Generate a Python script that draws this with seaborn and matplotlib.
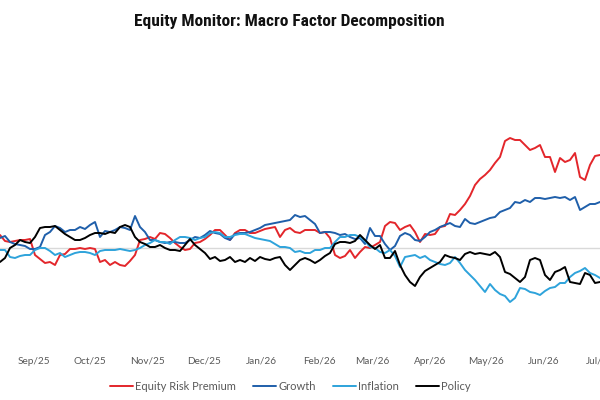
import numpy as np
import pandas as pd
import seaborn as sns
import matplotlib.pyplot as plt
import matplotlib.dates as mdates
from matplotlib import font_manager

# factor contributions (one value per ~2.7 days)
start_date = "2025-08-14"
end_date = "2026-07-01"

erp = [1.3, 0.7, 0.6, 0.7, 0.8, 0.8, 0.9, -0.7, -1.1, -1.5,
       -1.4, -1.7, -0.7, -0.6, -0.1, -0.1, 0.0, -0.1, 0.0, -0.1,
       -1.4, -1.2, -1.7, -1.4, -1.7, -1.8, -1.3, -0.7, 0.8, 0.9,
       1.1, 0.9, 1.5, 1.4, 1.0, 0.5, 0.1, -0.2, -0.1, 0.5,
       0.6, 0.9, 1.3, 1.8, 1.8, 1.3, 0.8, 1.5, 1.8, 1.8,
       1.5, 1.5, 1.7, 1.9, 2.0, 2.1, 1.1, 1.8, 2.0, 1.6,
       1.5, 1.8, 1.8, 1.8, 1.5, 1.6, 1.0, -0.7, -1.0, -0.8,
       -0.2, -1.0, -0.4, 0.1, 0.0, 0.3, 0.6, 2.2, 2.6, 2.5,
       1.8, 2.1, 2.3, 1.6, 0.6, 1.4, 1.3, 1.4, 2.1, 2.2,
       3.4, 3.3, 3.8, 4.4, 5.2, 6.3, 6.9, 7.3, 7.8, 8.5,
       9.1, 10.7, 11.0, 10.8, 10.8, 10.3, 9.8, 10.0, 10.3, 9.1,
       9.1, 7.6, 9.0, 8.6, 8.8, 9.5, 7.1, 6.8, 8.3, 9.2,
       9.3]

growth = [1.0, 1.2, 0.6, 0.4, 0.3, 0.2, -0.1, -0.1, 0.1, 1.3,
          1.6, 2.2, 2.0, 1.6, 1.8, 1.8, 2.1, 1.9, 2.3, 2.6,
          1.1, 1.7, 1.6, 1.8, 2.1, 2.0, 1.8, 3.2, 2.1, 1.6,
          0.8, 0.8, 0.6, 0.5, 0.6, 0.6, 0.5, 0.5, 0.8, 1.1,
          1.0, 1.3, 1.7, 1.5, 1.4, 1.0, 0.8, 1.4, 1.5, 1.5,
          1.6, 1.8, 2.0, 2.3, 2.4, 2.5, 2.6, 2.7, 2.8, 3.3,
          3.1, 3.2, 2.8, 2.4, 1.5, 1.6, 1.6, 1.5, 1.3, 1.4,
          1.1, 0.9, 1.0, 0.4, 2.0, 1.2, 1.2, 0.4, -0.2, 0.2,
          1.2, 1.5, 1.3, 0.8, 0.7, 1.1, 1.6, 1.8, 2.1, 2.3,
          2.5, 2.2, 2.1, 2.9, 2.5, 2.4, 2.6, 2.8, 3.0, 3.1,
          3.6, 3.8, 4.0, 4.6, 4.5, 4.8, 4.6, 5.0, 5.0, 4.9,
          5.0, 5.1, 5.0, 5.1, 4.8, 5.1, 3.8, 4.1, 4.4, 4.4,
          4.6]

inflation = [-0.2, -0.2, -0.9, -1.0, -0.8, -0.7, -0.7, -0.2, 0.0, 0.0,
             -0.3, -0.7, -0.5, -0.9, -0.7, -0.5, -0.4, -0.4, -0.5, -0.7,
             -0.3, -0.2, -0.2, -0.2, -0.1, -0.2, -0.3, -0.2, 0.0, 0.3,
             0.5, 0.8, 0.6, 0.6, 0.4, 0.8, 1.1, 1.1, 1.0, 0.8,
             1.0, 1.1, 1.5, 1.6, 1.5, 1.1, 1.1, 1.3, 1.4, 1.4,
             1.2, 1.0, 0.9, 0.8, 0.7, 0.4, 0.1, 0.1, 0.0, -0.4,
             -0.3, -0.5, -0.5, -0.2, -0.2, 0.0, 0.0, 0.6, 1.1, 1.1,
             1.3, 1.3, 1.1, 0.7, 0.1, 0.0, -0.4, -0.5, -0.2, -0.8,
             -1.9, -0.9, -0.8, -0.7, -1.0, -0.8, -1.2, -1.4, -1.6, -1.7,
             -1.5, -0.9, -1.5, -2.2, -2.7, -3.2, -3.8, -4.4, -3.6, -4.2,
             -4.6, -4.8, -5.4, -5.0, -4.0, -4.1, -4.4, -4.5, -4.7, -4.3,
             -4.0, -3.9, -3.5, -3.5, -2.9, -2.5, -2.3, -2.0, -2.5, -2.7,
             -3.0]

policy = [-1.4, -1.0, 0.0, 0.3, 0.8, 0.6, 0.5, 1.1, 2.0, 2.1,
          2.1, 2.2, 1.8, 1.4, 1.1, 0.8, 0.8, 1.0, 1.3, 1.5,
          1.5, 1.4, 1.6, 1.5, 2.1, 2.3, 2.1, 1.1, 0.6, 0.4,
          0.1, 0.1, 0.3, 0.0, -0.2, -0.2, -0.3, 0.3, 0.9, 0.3,
          -0.1, -0.5, -1.1, -0.9, -1.3, -1.2, -0.9, -1.4, -1.2, -1.4,
          -1.0, -1.3, -0.9, -1.1, -1.2, -1.0, -0.9, -1.7, -2.2, -1.7,
          -1.2, -1.0, -1.2, -1.5, -1.2, -0.8, -0.5, 0.4, 0.6, 0.6,
          0.5, 0.7, 1.3, 0.8, 0.3, -0.1, 0.3, -1.0, -1.0, -0.3,
          -1.7, -2.7, -3.4, -3.8, -2.9, -2.3, -2.0, -1.7, -1.4, -0.7,
          -0.9, -1.0, -1.2, -0.6, -0.4, -0.6, -0.5, -0.6, -0.7, -0.4,
          -0.9, -2.4, -2.6, -3.0, -3.4, -2.9, -1.2, -1.0, -1.2, -2.7,
          -3.2, -2.4, -2.2, -1.9, -3.4, -3.5, -3.6, -2.5, -2.7, -3.5,
          -3.4]

series_names = ["Equity Risk Premium", "Growth", "Inflation", "Policy"]
colors = ["#E3262B", "#1F5FAA", "#2EA3DB", "#000000"]
title = "Equity Monitor: Macro Factor Decomposition"

dates = pd.date_range(start_date, end_date, periods=len(erp))
df = pd.DataFrame({"date": dates, series_names[0]: erp, series_names[1]: growth,
                   series_names[2]: inflation, series_names[3]: policy})
long_df = df.melt(id_vars="date", var_name="factor", value_name="value")

sns.set_theme(style="white")
plt.rcParams["font.family"] = ["Lato", "DejaVu Sans"]

fig = plt.figure(figsize=(6, 4), dpi=100)
renderer = fig.canvas.get_renderer()

# the reference title uses a tall condensed face: pick the narrowest bold text face installed
text_families = {"DejaVu Sans", "Liberation Sans", "Liberation Sans Narrow", "Noto Sans",
                 "Roboto", "Roboto Condensed", "Open Sans", "Lato", "Inter"}
best_font, best_w = None, None
for f in font_manager.fontManager.ttflist:
    if f.name not in text_families:
        continue
    w = f.weight if isinstance(f.weight, int) else font_manager.weight_dict.get(f.weight, 400)
    if w < 600 or "italic" in f.style or "oblique" in f.style:
        continue
    fp = font_manager.FontProperties(fname=f.fname, size=10)
    t = fig.text(0, 0, title, fontproperties=fp)
    tw = t.get_window_extent(renderer).width
    t.remove()
    if best_w is None or tw < best_w:
        best_font, best_w = f.fname, tw
title_font = font_manager.FontProperties(fname=best_font)
title_font.set_size(min(10 * 310 / best_w, 17))

ax = fig.add_axes([0.0, 0.125, 1.0, 0.75])

ax.axhline(0, color="#d9d9d9", lw=1, zorder=0)
sns.lineplot(data=long_df, x="date", y="value", hue="factor",
             hue_order=series_names, palette=colors, lw=1.4, ax=ax, legend=False)

ax.set_xlim(pd.Timestamp(start_date), pd.Timestamp(end_date))
ax.set_ylim(-10.2, 19.8)
ax.xaxis.set_major_locator(mdates.MonthLocator())
ax.xaxis.set_major_formatter(mdates.DateFormatter("%b/%y"))
ax.tick_params(axis="x", length=0, pad=5, labelsize=7.2, labelcolor="#595959")
ax.set_yticks([])
ax.set_xlabel("")
ax.set_ylabel("")
for s in ax.spines.values():
    s.set_visible(False)

handles = [plt.Line2D([], [], color=c, lw=1.4) for c in colors]
fig.legend(handles, series_names, loc="center", bbox_to_anchor=(0.484, 0.035),
           ncol=4, frameon=False, fontsize=8, labelcolor="#595959",
           handlelength=2.1, handletextpad=0.2, columnspacing=1.5)

fig.text(0.482, 0.947, title, ha="center", va="center",
         fontproperties=title_font, color="#111111")

fig.savefig("out.png", dpi=100)
